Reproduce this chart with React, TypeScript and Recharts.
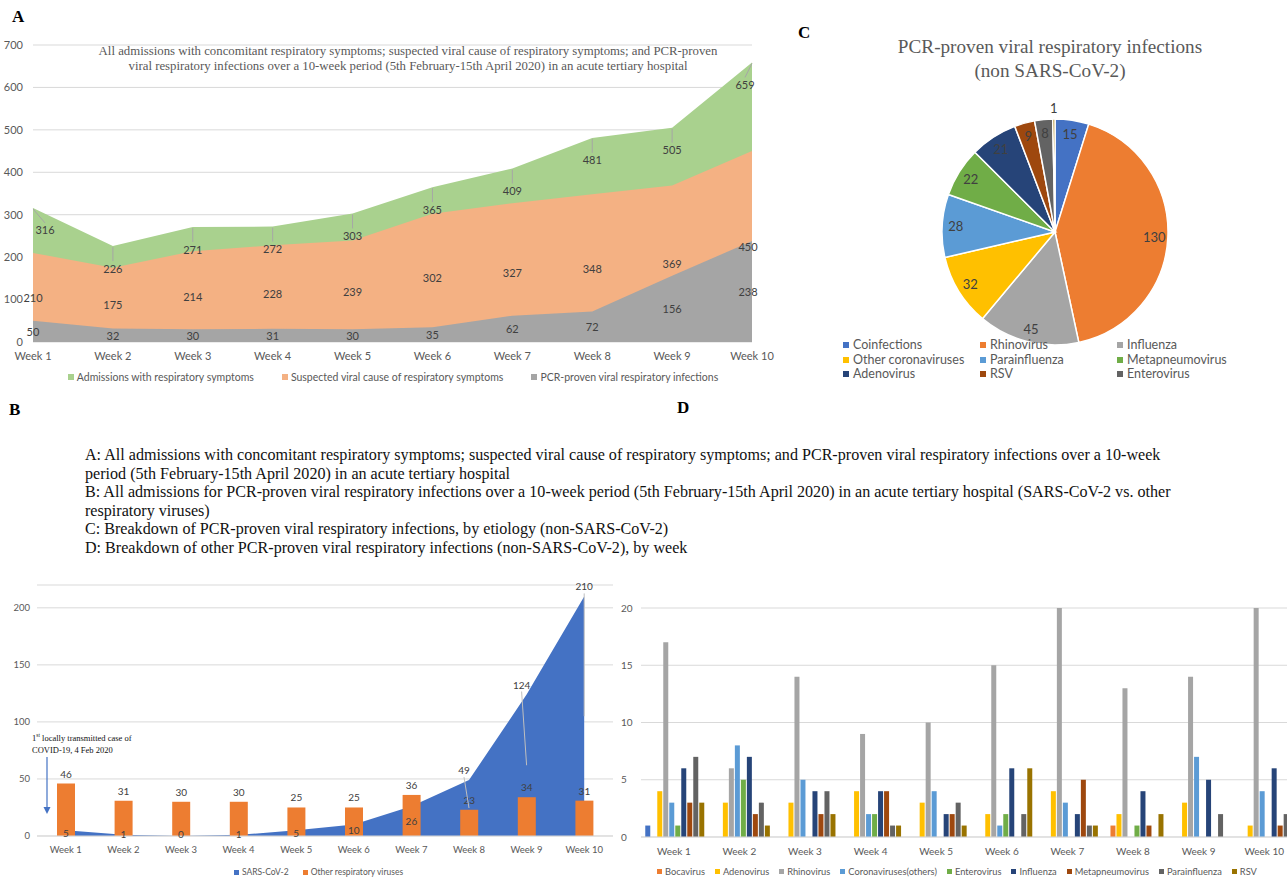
import React from 'react';
import {
  AreaChart, Area, XAxis, YAxis, CartesianGrid, Legend, LabelList,
  ComposedChart, Bar, BarChart, PieChart, Pie, Cell,
} from 'recharts';

// ---------------- DATA ----------------
const weeks = ['Week 1', 'Week 2', 'Week 3', 'Week 4', 'Week 5', 'Week 6', 'Week 7', 'Week 8', 'Week 9', 'Week 10'];

// Panel A
const admissions = [316, 226, 271, 272, 303, 365, 409, 481, 505, 659];
const suspectedViral = [210, 175, 214, 228, 239, 302, 327, 348, 369, 450];
const pcrProven = [50, 32, 30, 31, 30, 35, 62, 72, 156, 238];
const yTicksA = [0, 100, 200, 300, 400, 500, 600, 700];
const seriesNamesA = ['Admissions with respiratory symptoms', 'Suspected viral cause of respiratory symptoms', 'PCR-proven viral respiratory infections'];

// Panel B
const sarsCov2 = [5, 1, 0, 1, 5, 10, 26, 49, 124, 210];
const otherRespiratory = [46, 31, 30, 30, 25, 25, 36, 23, 34, 31];
const yTicksB = [0, 50, 100, 150, 200];
const seriesNamesB = ['SARS-CoV-2', 'Other respiratory viruses'];

// Panel C
const pieNames = ['Coinfections', 'Rhinovirus', 'Influenza', 'Other coronaviruses', 'Parainfluenza', 'Metapneumovirus', 'Adenovirus', 'RSV', 'Enterovirus', 'Unspecified'];
const pieValues = [15, 130, 45, 32, 28, 22, 21, 9, 8, 1];

// Panel D
const coinfectionsWk = [1, 0, 0, 0, 0, 0, 0, 0, 0, 0];
const bocavirusWk = [0, 0, 0, 0, 0, 0, 0, 1, 0, 0];
const adenovirusWk = [4, 3, 3, 4, 3, 2, 4, 2, 3, 1];
const rhinovirusWk = [17, 6, 14, 9, 10, 15, 20, 13, 14, 20];
const coronavirusesWk = [3, 8, 5, 2, 4, 1, 3, 0, 7, 4];
const enterovirusWk = [1, 5, 0, 2, 0, 2, 0, 1, 0, 0];
const influenzaWk = [6, 7, 4, 4, 2, 6, 2, 4, 5, 6];
const metapneumovirusWk = [3, 2, 2, 4, 2, 0, 5, 1, 0, 1];
const parainfluenzaWk = [7, 3, 4, 1, 3, 2, 1, 0, 2, 2];
const rsvWk = [3, 1, 2, 1, 1, 6, 1, 2, 0, 0];
const yTicksD = [0, 5, 10, 15, 20];
const seriesNamesD = ['Coinfections', 'Bocavirus', 'Adenovirus', 'Rhinovirus', 'Coronaviruses(others)', 'Enterovirus', 'Influenza', 'Metapneumovirus', 'Parainfluenza', 'RSV'];
const seriesValuesD = [coinfectionsWk, bocavirusWk, adenovirusWk, rhinovirusWk, coronavirusesWk, enterovirusWk, influenzaWk, metapneumovirusWk, parainfluenzaWk, rsvWk];

// ---------------- STYLE ----------------
const colorsA = ['#A9D18E', '#F4B183', '#A5A5A5'];
const colorsB = ['#4472C4', '#ED7D31'];
const pieColors = ['#4472C4', '#ED7D31', '#A5A5A5', '#FFC000', '#5B9BD5', '#70AD47', '#264478', '#9E480E', '#636363', '#997300'];
const colorsD = ['#4472C4', '#ED7D31', '#FFC000', '#A5A5A5', '#5B9BD5', '#70AD47', '#264478', '#9E480E', '#636363', '#997300'];

const SANS = 'Lato, "Open Sans", sans-serif';
const SERIF = '"Liberation Serif", "Times New Roman", serif';
const AXIS_GRAY = '#595959';
const LABEL_GRAY = '#404040';
const GRID = '#D9D9D9';

const LA = { w: 790, h: 365, margin: { top: 15, right: 38, bottom: 8, left: 0 }, yW: 33, xH: 25, legH: 20 };
const plotBottomA = LA.h - LA.margin.bottom - LA.legH - LA.xH;
const LB = { w: 640, h: 304, margin: { top: 10, right: 27, bottom: 1, left: 0 }, yW: 37, xH: 30, legH: 12 };
const plotBottomB = LB.h - LB.margin.bottom - LB.legH - LB.xH;
const LD = { w: 710, h: 289, margin: { top: 18, right: 13, bottom: 0, left: 0 }, yW: 41, xH: 26, legH: 16 };

// ---------------- TABLES ----------------
const dataA = weeks.map((week, i) => ({ week, admissions: admissions[i], suspected: suspectedViral[i], pcr: pcrProven[i] }));
const dataB = weeks.map((week, i) => ({ week, sars: sarsCov2[i], other: otherRespiratory[i] }));
const pieData = pieNames.map((name, i) => ({ name, value: pieValues[i] }));
const dataD = weeks.map((week, i) => {
  const row: any = { week };
  seriesValuesD.forEach((arr, k) => { row['s' + k] = arr[i]; });
  return row;
});

// ---------------- HELPERS ----------------
const pt = (p: any) => {
  const vb = p.viewBox || {};
  return { x: vb.x ?? p.x, y: vb.y ?? p.y };
};

const LegendRow = ({ items, fontSize, square, gap, shift = 0 }: any) => (
  <div style={{ display: 'flex', justifyContent: 'center', alignItems: 'center', gap, fontSize, color: AXIS_GRAY, fontFamily: SANS, whiteSpace: 'nowrap', height: '100%', paddingLeft: shift }}>
    {items.map((it: any) => (
      <span key={it.name} style={{ display: 'inline-flex', alignItems: 'center' }}>
        <span style={{ display: 'inline-block', width: square, height: square, background: it.color, marginRight: 3 }} />
        {it.name}
      </span>
    ))}
  </div>
);

const RADIAN = Math.PI / 180;

// ---------------- LABELS ----------------
const admissionsLabel = (p: any) => {
  const { x, y } = pt(p);
  const i = p.index;
  const lx = i === 0 ? x + 12 : i === weeks.length - 1 ? x - 7 : x;
  const ly = y + 22;
  return (
    <g>
      <line x1={x} y1={y + 1} x2={lx} y2={ly - 7} stroke="#A6A6A6" strokeWidth={1} />
      <text x={lx} y={ly} textAnchor="middle" dominantBaseline="central" fontSize={11} fill={LABEL_GRAY} fontFamily={SANS}>{p.value}</text>
    </g>
  );
};

const centerLabelA = (p: any) => {
  const { x, y } = pt(p);
  const i = p.index;
  const lx = i === weeks.length - 1 ? x - 4 : x;
  return (
    <text x={lx} y={(y + plotBottomA) / 2} textAnchor="middle" dominantBaseline="central" fontSize={11} fill={LABEL_GRAY} fontFamily={SANS}>{p.value}</text>
  );
};

const sarsLabel = (p: any) => {
  const { x, y } = pt(p);
  const i = p.index;
  const mid = Math.min((y + plotBottomB) / 2, plotBottomB - 2);
  if (p.value > 40) {
    const lx = i === weeks.length - 1 ? x : x - 5;
    const ly = y - 10;
    return (
      <g>
        <line x1={lx} y1={ly + 7} x2={x} y2={mid} stroke="#BFBFBF" strokeWidth={1} />
        <text x={lx} y={ly} textAnchor="middle" dominantBaseline="central" fontSize={10} fill={LABEL_GRAY} fontFamily={SANS}>{p.value}</text>
      </g>
    );
  }
  return (
    <text x={x} y={mid} textAnchor="middle" dominantBaseline="central" fontSize={10} fill={LABEL_GRAY} fontFamily={SANS}>{p.value}</text>
  );
};

const pieLabel = (p: any) => {
  const { cx, cy, midAngle, outerRadius, value, percent } = p;
  const r = percent < 0.01 ? outerRadius + 11 : outerRadius * 0.88;
  const x = cx + r * Math.cos(-midAngle * RADIAN);
  const y = cy + r * Math.sin(-midAngle * RADIAN);
  return (
    <text x={x} y={y} textAnchor="middle" dominantBaseline="central" fontSize={13} fill={LABEL_GRAY} stroke="none" fontFamily={SANS}>{value}</text>
  );
};

// ---------------- PANELS ----------------
const PanelA = () => (
  <AreaChart width={LA.w} height={LA.h} data={dataA} margin={LA.margin}>
    <CartesianGrid vertical={false} stroke={GRID} />
    <XAxis dataKey="week" axisLine={false} tickLine={false} tickSize={0} tickMargin={10} height={LA.xH}
      tick={{ fill: AXIS_GRAY, fontSize: 11, fontFamily: SANS }} interval={0} />
    <YAxis domain={[0, 700]} ticks={yTicksA} axisLine={false} tickLine={false} tickSize={0} tickMargin={10} width={LA.yW}
      tick={{ fill: AXIS_GRAY, fontSize: 11, fontFamily: SANS }} />
    <Area dataKey="admissions" name={seriesNamesA[0]} type="linear" fill={colorsA[0]} fillOpacity={1} stroke="none" isAnimationActive={false}>
      <LabelList dataKey="admissions" content={admissionsLabel} />
    </Area>
    <Area dataKey="suspected" name={seriesNamesA[1]} type="linear" fill={colorsA[1]} fillOpacity={1} stroke="none" isAnimationActive={false}>
      <LabelList dataKey="suspected" content={centerLabelA} />
    </Area>
    <Area dataKey="pcr" name={seriesNamesA[2]} type="linear" fill={colorsA[2]} fillOpacity={1} stroke="none" isAnimationActive={false}>
      <LabelList dataKey="pcr" content={centerLabelA} />
    </Area>
    <Legend verticalAlign="bottom" wrapperStyle={{ left: 0, width: 786, height: LA.legH }}
      content={() => <LegendRow items={seriesNamesA.map((name, i) => ({ name, color: colorsA[i] }))} fontSize={10.5} square={6} gap={28} />} />
  </AreaChart>
);

const PanelB = () => (
  <ComposedChart width={LB.w} height={LB.h} data={dataB} margin={LB.margin}>
    <CartesianGrid vertical={false} stroke={GRID} />
    <XAxis dataKey="week" axisLine={{ stroke: GRID }} tickLine={false} tickSize={0} tickMargin={10} height={LB.xH}
      tick={{ fill: AXIS_GRAY, fontSize: 9.5, fontFamily: SANS }} interval={0} />
    <YAxis domain={[0, 220]} ticks={yTicksB} axisLine={false} tickLine={false} tickSize={0} tickMargin={7} width={LB.yW}
      tick={{ fill: AXIS_GRAY, fontSize: 9.5, fontFamily: SANS }} allowDataOverflow />
    <Area dataKey="sars" name={seriesNamesB[0]} type="linear" fill={colorsB[0]} fillOpacity={1} stroke="none" isAnimationActive={false}>
      <LabelList dataKey="sars" content={sarsLabel} />
    </Area>
    <Bar dataKey="other" name={seriesNamesB[1]} fill={colorsB[1]} barSize={18} isAnimationActive={false}>
      <LabelList dataKey="other" position="top" offset={6} fill={LABEL_GRAY} fontSize={10} fontFamily={SANS} />
    </Bar>
    <Legend verticalAlign="bottom" wrapperStyle={{ left: 0, width: 637, height: LB.legH }}
      content={() => <LegendRow items={seriesNamesB.map((name, i) => ({ name, color: colorsB[i] }))} fontSize={8.5} square={5} gap={14} />} />
  </ComposedChart>
);

const PanelC = () => (
  <PieChart width={497} height={300}>
    <Pie data={pieData} dataKey="value" nameKey="name" cx={260} cy={142} outerRadius={113} startAngle={90} endAngle={-270}
      stroke="#FFFFFF" strokeWidth={1.5} label={pieLabel} labelLine={false} isAnimationActive={false}>
      {pieData.map((d, i) => <Cell key={d.name} fill={pieColors[i]} />)}
    </Pie>
    <Legend verticalAlign="bottom" wrapperStyle={{ left: 0, width: 497, height: 45, bottom: 2 }}
      content={() => (
        <div style={{ display: 'grid', gridTemplateColumns: '137px 137px 137px', paddingLeft: 53, fontFamily: SANS, fontSize: 12.5, color: AXIS_GRAY, lineHeight: '14.5px' }}>
          {pieNames.slice(0, 9).map((name, i) => (
            <span key={name} style={{ display: 'inline-flex', alignItems: 'center', whiteSpace: 'nowrap' }}>
              <span style={{ display: 'inline-block', width: 6, height: 6, background: pieColors[i], marginRight: 4 }} />
              {name}
            </span>
          ))}
        </div>
      )} />
  </PieChart>
);

const PanelD = () => (
  <BarChart width={LD.w} height={LD.h} data={dataD} margin={LD.margin} barCategoryGap="6.5%" barGap={1}>
    <CartesianGrid vertical={false} stroke={GRID} />
    <XAxis dataKey="week" axisLine={{ stroke: GRID }} tickLine={false} tickSize={0} tickMargin={11} height={LD.xH}
      tick={{ fill: AXIS_GRAY, fontSize: 10, fontFamily: SANS }} interval={0} />
    <YAxis domain={[0, 20]} ticks={yTicksD} axisLine={false} tickLine={false} tickSize={0} tickMargin={20} width={LD.yW}
      tick={{ fill: AXIS_GRAY, fontSize: 10, fontFamily: SANS, textAnchor: 'start' }} />
    {seriesNamesD.map((name, k) => (
      <Bar key={name} dataKey={'s' + k} name={name} fill={colorsD[k]} isAnimationActive={false} legendType={k === 0 ? 'none' : 'square'} />
    ))}
    <Legend verticalAlign="bottom" wrapperStyle={{ left: 0, width: 697, height: LD.legH }}
      content={() => <LegendRow items={seriesNamesD.slice(1).map((name, i) => ({ name, color: colorsD[i + 1] }))} fontSize={9.3} square={5} gap={10} shift={17} />} />
  </BarChart>
);

const letter = (ch: string, left: number, top: number) => (
  <div style={{ position: 'absolute', left, top, fontFamily: SERIF, fontWeight: 'bold', fontSize: 17, color: '#000', lineHeight: '17px' }}>{ch}</div>
);

const captionLines = [
  'A: All admissions with concomitant respiratory symptoms; suspected viral cause of respiratory symptoms; and PCR-proven viral respiratory infections over a 10-week',
  'period (5th February-15th April 2020) in an acute tertiary hospital',
  'B: All admissions for PCR-proven viral respiratory infections over a 10-week period (5th February-15th April 2020) in an acute tertiary hospital (SARS-CoV-2 vs. other',
  'respiratory viruses)',
  'C: Breakdown of PCR-proven viral respiratory infections, by etiology (non-SARS-CoV-2)',
  'D: Breakdown of other PCR-proven viral respiratory infections (non-SARS-CoV-2), by week',
];

export default function App() {
  return (
    <div style={{ position: 'absolute', left: 0, top: 0, width: 1287, height: 879, overflow: 'hidden', background: '#FFFFFF', fontFamily: SANS }}>
      {letter('A', 12, 8)}
      {letter('C', 798, 24)}
      {letter('B', 9, 401)}
      {letter('D', 677, 399)}

      <div style={{ position: 'absolute', left: 0, top: 30 }}><PanelA /></div>
      <div style={{ position: 'absolute', left: 0, top: 44, width: 816, textAlign: 'center', fontFamily: SERIF, fontSize: 12.8, lineHeight: '15px', color: AXIS_GRAY, whiteSpace: 'nowrap' }}>
        <div>All admissions with concomitant respiratory symptoms; suspected viral cause of respiratory symptoms; and PCR-proven</div>
        <div>viral respiratory infections over a 10-week period (5th February-15th April 2020) in an acute tertiary hospital</div>
      </div>

      <div style={{ position: 'absolute', left: 790, top: 85 }}><PanelC /></div>
      <div style={{ position: 'absolute', left: 850, top: 35, width: 400, textAlign: 'center', fontFamily: SERIF, fontSize: 19.2, lineHeight: '24px', color: AXIS_GRAY }}>
        <div>PCR-proven viral respiratory infections</div>
        <div>(non SARS-CoV-2)</div>
      </div>

      <div style={{ position: 'absolute', left: 85, top: 446, fontFamily: SERIF, fontSize: 16.1, lineHeight: '18.6px', color: '#111', whiteSpace: 'nowrap' }}>
        {captionLines.map((l) => <div key={l}>{l}</div>)}
      </div>

      <div style={{ position: 'absolute', left: 0, top: 575 }}><PanelB /></div>
      <div style={{ position: 'absolute', left: 32, top: 729, fontFamily: SERIF, fontSize: 8.5, lineHeight: '12.5px', color: '#111', whiteSpace: 'nowrap' }}>
        <div>1<sup style={{ fontSize: 5.5 }}>st</sup> locally transmitted case of</div>
        <div>COVID-19, 4 Feb 2020</div>
      </div>
      <svg style={{ position: 'absolute', left: 40, top: 755 }} width={14} height={62}>
        <line x1={7} y1={2} x2={7} y2={54} stroke="#4472C4" strokeWidth={1.2} />
        <polygon points="3.5,52 10.5,52 7,59" fill="#4472C4" />
      </svg>

      <div style={{ position: 'absolute', left: 600, top: 590 }}><PanelD /></div>
    </div>
  );
}
